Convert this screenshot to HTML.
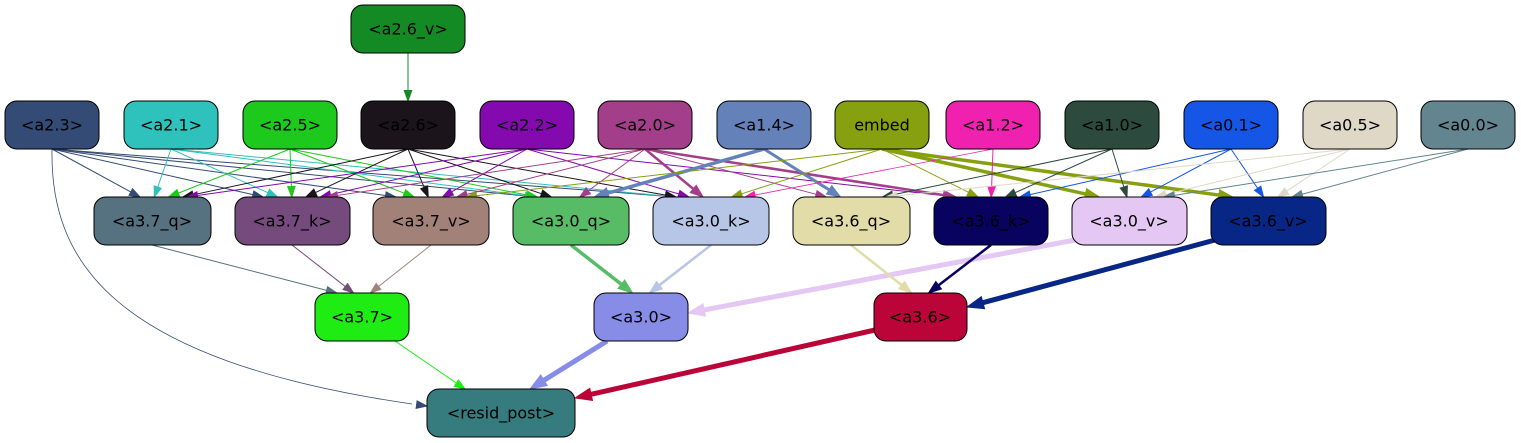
<!DOCTYPE html>
<html><head><meta charset="utf-8"><style>
html,body{margin:0;padding:0;background:#fff;width:1521px;height:443px;overflow:hidden}
svg text{font-family:"DejaVu Sans","Liberation Sans",sans-serif;font-size:16px;text-anchor:middle;dominant-baseline:central}
</style></head><body>
<svg id="s" width="1521" height="443" viewBox="0 0 1521 443" xmlns="http://www.w3.org/2000/svg">
<g id="edges"></g>
<g id="nodes" stroke="#000" stroke-width="1">
<rect x="351" y="5" width="114" height="48" rx="12" fill="#148a24"/>
<rect x="5" y="101" width="94" height="48" rx="12" fill="#344b75"/>
<rect x="124" y="101" width="94" height="48" rx="12" fill="#2fc1bb"/>
<rect x="243" y="101" width="94" height="48" rx="12" fill="#1cc91c"/>
<rect x="361" y="101" width="94" height="48" rx="12" fill="#1b141b"/>
<rect x="480" y="101" width="94" height="48" rx="12" fill="#8409ae"/>
<rect x="598" y="101" width="94" height="48" rx="12" fill="#a33f8a"/>
<rect x="717" y="101" width="94" height="48" rx="12" fill="#6581b9"/>
<rect x="835" y="101" width="94" height="48" rx="12" fill="#87a00f"/>
<rect x="946" y="101" width="94" height="48" rx="12" fill="#ef21ae"/>
<rect x="1065" y="101" width="94" height="48" rx="12" fill="#2c4b3e"/>
<rect x="1184" y="101" width="94" height="48" rx="12" fill="#1656e6"/>
<rect x="1303" y="101" width="94" height="48" rx="12" fill="#e0d8c6"/>
<rect x="1421" y="101" width="94" height="48" rx="12" fill="#638590"/>
<rect x="94" y="197" width="117" height="48" rx="12" fill="#56717f"/>
<rect x="235" y="197" width="115" height="48" rx="12" fill="#754b7e"/>
<rect x="373" y="197" width="116" height="48" rx="12" fill="#a28278"/>
<rect x="513" y="197" width="116" height="48" rx="12" fill="#58bc67"/>
<rect x="653" y="197" width="116" height="48" rx="12" fill="#b7c6e6"/>
<rect x="793" y="197" width="117" height="48" rx="12" fill="#e2dca8"/>
<rect x="934" y="197" width="114" height="48" rx="12" fill="#090360"/>
<rect x="1072" y="197" width="115" height="48" rx="12" fill="#e4c7f3"/>
<rect x="1211" y="197" width="115" height="48" rx="12" fill="#072686"/>
<rect x="315" y="293" width="94" height="48" rx="12" fill="#1fec13"/>
<rect x="594" y="293" width="94" height="48" rx="12" fill="#878ce7"/>
<rect x="874" y="293" width="93" height="48" rx="12" fill="#bb0437"/>
<rect x="427" y="389" width="148" height="48" rx="12" fill="#367b7e"/>
</g>
<g fill="#000">
<text x="408" y="29">&lt;a2.6_v&gt;</text>
<text x="52" y="125">&lt;a2.3&gt;</text>
<text x="171" y="125">&lt;a2.1&gt;</text>
<text x="290" y="125">&lt;a2.5&gt;</text>
<text x="408" y="125">&lt;a2.6&gt;</text>
<text x="527" y="125">&lt;a2.2&gt;</text>
<text x="645" y="125">&lt;a2.0&gt;</text>
<text x="764" y="125">&lt;a1.4&gt;</text>
<text x="882" y="125">embed</text>
<text x="993" y="125">&lt;a1.2&gt;</text>
<text x="1112" y="125">&lt;a1.0&gt;</text>
<text x="1231" y="125">&lt;a0.1&gt;</text>
<text x="1350" y="125">&lt;a0.5&gt;</text>
<text x="1468" y="125">&lt;a0.0&gt;</text>
<text x="152" y="221">&lt;a3.7_q&gt;</text>
<text x="292" y="221">&lt;a3.7_k&gt;</text>
<text x="431" y="221">&lt;a3.7_v&gt;</text>
<text x="571" y="221">&lt;a3.0_q&gt;</text>
<text x="711" y="221">&lt;a3.0_k&gt;</text>
<text x="851" y="221">&lt;a3.6_q&gt;</text>
<text x="991" y="221">&lt;a3.6_k&gt;</text>
<text x="1129" y="221">&lt;a3.0_v&gt;</text>
<text x="1268" y="221">&lt;a3.6_v&gt;</text>
<text x="362" y="317">&lt;a3.7&gt;</text>
<text x="641" y="317">&lt;a3.0&gt;</text>
<text x="920" y="317">&lt;a3.6&gt;</text>
<text x="501" y="413">&lt;resid_post&gt;</text>
</g>
</svg>
<script>
var N={a26v:[408,29],a23:[52,125],a21:[171,125],a25:[290,125],a26:[408,125],a22:[527,125],a20:[645,125],a14:[764,125],emb:[882,125],a12:[993,125],a10:[1112,125],a01:[1231,125],a05:[1350,125],a00:[1468,125],
q37:[152,221],k37:[292,221],v37:[431,221],q30:[571,221],k30:[711,221],q36:[851,221],k36:[991,221],v30:[1129,221],v36:[1268,221],a37:[362,317],a30:[641,317],a36:[920,317],rp:[501,413]};
var C={a23:'#344b75',a21:'#2fc1bb',a25:'#1cc91c',a26:'#1b141b',a22:'#8409ae',a20:'#a33f8a',a14:'#6581b9',emb:'#87a00f',a12:'#ef21ae',a10:'#2c4b3e',a01:'#1656e6',a05:'#e0d8c6',a00:'#638590',a26v:'#148a24',q37:'#56717f',k37:'#754b7e',v37:'#a28278',q30:'#58bc67',k30:'#b7c6e6',v30:'#e4c7f3',q36:'#e2dca8',k36:'#090360',v36:'#072686',a37:'#1fec13',a30:'#878ce7',a36:'#bb0437'};
var E=[['a26v','a26',1],
['a23','q37',1],['a23','k37',1],['a23','v37',1],['a23','q30',1],['a23','k30',1],
['a21','q37',1],['a21','k37',1],['a21','q30',1],['a21','k30',1],
['a25','q37',1],['a25','k37',1],['a25','v37',1],['a25','q30',1],
['a26','q37',1],['a26','k37',1],['a26','v37',1],['a26','q30',1],['a26','k30',1],
['a22','q37',1],['a22','k37',1],['a22','v37',1],['a22','k30',1],['a22','k36',1],
['a20','k37',1],['a20','v37',1],['a20','q30',1],['a20','k30',2.5],['a20','q36',1],['a20','k36',2.5],
['a14','q30',3.5],['a14','q36',3],
['emb','v37',1],['emb','k30',1],['emb','k36',1],['emb','v30',3.5],['emb','v36',3.5],
['a12','k36',1],['a12','k30',0.8],
['a10','k36',1],['a10','v30',1],['a10','q36',1],
['a01','k36',1],['a01','v30',1],['a01','v36',1],
['a05','v30',1],['a05','v36',1],['a05','q36',1],
['a00','v36',1],['a00','v30',1],
['q37','a37',1],['k37','a37',1],['v37','a37',1],
['q30','a30',3.5],['k30','a30',2.5],['v30','a30',5],
['q36','a36',2.5],['k36','a36',2.5],['v36','a36',5],
['a37','rp',1],['a30','rp',5],['a36','rp',5]];
var g=document.getElementById('edges'),h='';
function ah(x,y,ang,col,w){var L=9+w*1.5,W=5+w;var bx=x-L*Math.cos(ang),by=y-L*Math.sin(ang);var px=-Math.sin(ang)*W/1.6,py=Math.cos(ang)*W/1.6;
return '<polygon points="'+x+','+y+' '+(bx+px)+','+(by+py)+' '+(bx-px)+','+(by-py)+'" fill="'+col+'" stroke="'+col+'"/>';}
E.forEach(function(e){var s=N[e[0]],t=N[e[1]],c=C[e[0]],w=e[2];
var sx=s[0],sy=s[1]+24,tx=t[0],ty=t[1]-24;
var dx=(sx-tx);tx+=Math.max(-35,Math.min(35,dx*0.12));
if(e[0]=='v30'&&e[1]=='a30'){sx=1075;sy=240;tx=688;ty=313;}
if(e[0]=='v36'&&e[1]=='a36'){sx=1215;sy=240;tx=967;ty=307;}
if(e[0]=='a36'&&e[1]=='rp'){sx=875;sy=330;tx=575;ty=398;}
if(e[0]=='a30'&&e[1]=='rp'){sx=607;sy=341;tx=530;ty=389;}
if(e[0]=='a37'&&e[1]=='rp'){sx=395;sy=341;tx=465;ty=389;}
var ang=Math.atan2(ty-sy,tx-sx);var L=9+w*1.5;var ex=tx-L*Math.cos(ang),ey=ty-L*Math.sin(ang);
h+='<path d="M'+sx+','+sy+' L'+ex+','+ey+'" stroke="'+c+'" stroke-width="'+w+'" fill="none"/>'+ah(tx,ty,ang,c,w);});
h+='<path d="M52,149 C50,260 110,360 412,404" stroke="#344b75" stroke-width="0.8" fill="none"/>'+ah(427,406,0.13,'#344b75',1);
g.innerHTML=h;
</script>
</body></html>
